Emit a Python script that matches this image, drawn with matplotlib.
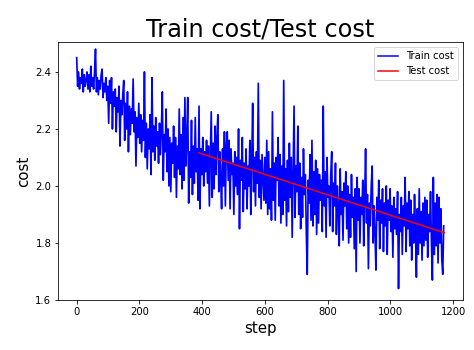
import matplotlib
matplotlib.use("Agg")
import matplotlib.pyplot as plt
import numpy as np

train_steps = np.arange(0, 1171, 3)
train_cost = [
    2.45, 2.35, 2.40, 2.34, 2.38, 2.36, 2.41, 2.33, 2.39, 2.35,
    2.37, 2.40, 2.34, 2.39, 2.33, 2.42, 2.35, 2.38, 2.34, 2.40,
    2.48, 2.33, 2.38, 2.32, 2.37, 2.34, 2.39, 2.41, 2.31, 2.36,
    2.33, 2.38, 2.30, 2.35, 2.22, 2.37, 2.29, 2.38, 2.20, 2.33,
    2.28, 2.34, 2.19, 2.31, 2.26, 2.35, 2.14, 2.30, 2.25, 2.32,
    2.37, 2.16, 2.29, 2.20, 2.33, 2.12, 2.28, 2.18, 2.27, 2.22,
    2.375, 2.19, 2.26, 2.07, 2.24, 2.17, 2.29, 2.15, 2.25, 2.12,
    2.23, 2.16, 2.40, 2.10, 2.22, 2.06, 2.20, 2.13, 2.25, 2.04,
    2.38, 2.12, 2.21, 2.09, 2.24, 2.14, 2.19, 2.08, 2.22, 2.11,
    2.20, 2.33, 2.02, 2.18, 2.12, 2.27, 2.05, 2.20, 2.00, 2.17,
    1.98, 2.15, 2.08, 2.21, 2.03, 2.17, 1.96, 2.14, 2.06, 2.27,
    2.04, 2.18, 1.99, 2.24, 2.02, 2.31, 2.07, 2.16, 2.31, 1.94,
    2.12, 2.03, 2.23, 1.97, 2.14, 2.01, 2.24, 2.05, 2.13, 1.95,
    2.28, 1.92, 2.13, 2.04, 2.17, 2.00, 2.12, 2.05, 2.16, 2.01,
    2.14, 1.93, 2.10, 2.26, 1.96, 2.15, 1.99, 2.21, 2.04, 2.17,
    2.25, 1.98, 2.12, 2.03, 1.92, 2.13, 2.00, 2.19, 1.93, 2.14,
    2.19, 2.02, 2.16, 1.92, 2.13, 2.04, 2.08, 1.90, 2.12, 2.00,
    2.10, 1.97, 2.20, 1.85, 2.09, 2.02, 2.17, 1.91, 2.08, 1.99,
    2.13, 1.92, 2.07, 2.00, 2.16, 1.90, 2.08, 2.29, 1.98, 2.10,
    1.93, 2.12, 2.01, 2.36, 1.96, 2.09, 1.92, 2.11, 2.03, 1.95,
    2.10, 1.94, 2.16, 1.90, 2.12, 1.92, 2.06, 1.88, 2.26, 1.95,
    2.08, 1.88, 2.10, 2.02, 2.17, 1.93, 2.11, 1.87, 2.07, 1.90,
    2.37, 1.95, 2.06, 1.86, 2.09, 1.91, 2.15, 1.96, 2.10, 1.82,
    2.05, 2.28, 1.89, 2.07, 1.98, 2.21, 1.90, 2.08, 1.85, 2.03,
    1.89, 2.13, 1.97, 2.04, 1.84, 1.69, 2.02, 1.94, 2.11, 1.88,
    2.16, 1.86, 2.05, 1.90, 2.09, 1.83, 2.06, 1.87, 2.04, 1.95,
    2.02, 1.84, 2.28, 1.93, 2.05, 1.82, 2.10, 1.96, 2.00, 1.86,
    2.04, 2.12, 1.84, 2.01, 1.93, 2.08, 1.83, 2.00, 1.92, 1.79,
    2.06, 1.90, 1.98, 1.81, 2.01, 1.93, 2.05, 1.85, 2.00, 1.80,
    1.97, 1.82, 2.04, 1.89, 1.96, 1.78, 1.99, 1.70, 2.03, 1.88,
    1.99, 1.80, 1.96, 1.90, 2.02, 1.79, 1.95, 2.13, 1.87, 1.97,
    1.71, 1.94, 1.86, 2.00, 2.07, 1.80, 1.93, 1.83, 1.705, 1.96,
    1.88, 2.02, 1.78, 1.95, 1.87, 1.99, 1.77, 1.94, 1.86, 2.00,
    1.76, 1.95, 1.88, 1.99, 1.84, 1.93, 1.75, 1.96, 1.85, 1.92,
    1.83, 1.98, 1.64, 1.90, 1.84, 1.96, 1.76, 1.93, 1.86, 2.03,
    1.77, 1.94, 1.85, 1.98, 1.79, 1.95, 1.74, 1.90, 1.80, 1.97,
    1.85, 1.68, 1.92, 1.76, 1.99, 1.80, 1.91, 1.74, 1.94, 1.79,
    1.96, 1.81, 1.95, 1.75, 1.90, 1.84, 1.98, 1.80, 1.67, 2.03,
    1.76, 1.94, 1.79, 1.97, 1.73, 1.96, 1.80, 1.92, 1.74, 1.69,
    1.86,
]
test_steps = [390, 1172]
test_cost = [2.116, 1.836]

fig = plt.figure(figsize=(474 / 72, 350 / 72), dpi=72)
ax = fig.add_axes([58.3 / 474, 50 / 350, (462.7 - 58.3) / 474, (300 - 42) / 350])
ax.plot(train_steps, train_cost, color="blue", linewidth=1.7, label="Train cost")
ax.plot(test_steps, test_cost, color="red", linewidth=1.5, label="Test cost")
ax.set_xlim(-58.6, 1230.6)
ax.set_ylim(1.6, 2.505)
ax.set_xticks([0, 200, 400, 600, 800, 1000, 1200])
ax.set_yticks([1.6, 1.8, 2.0, 2.2, 2.4])
ax.tick_params(labelsize=10)
ax.set_title("Train cost/Test cost", fontsize=24)
ax.set_xlabel("step", fontsize=15)
ax.set_ylabel("cost", fontsize=15)
leg = ax.legend(loc="upper right", fontsize=10)
for line in leg.get_lines():
    line.set_linewidth(1.5)
fig.savefig("out.png", dpi=72)
